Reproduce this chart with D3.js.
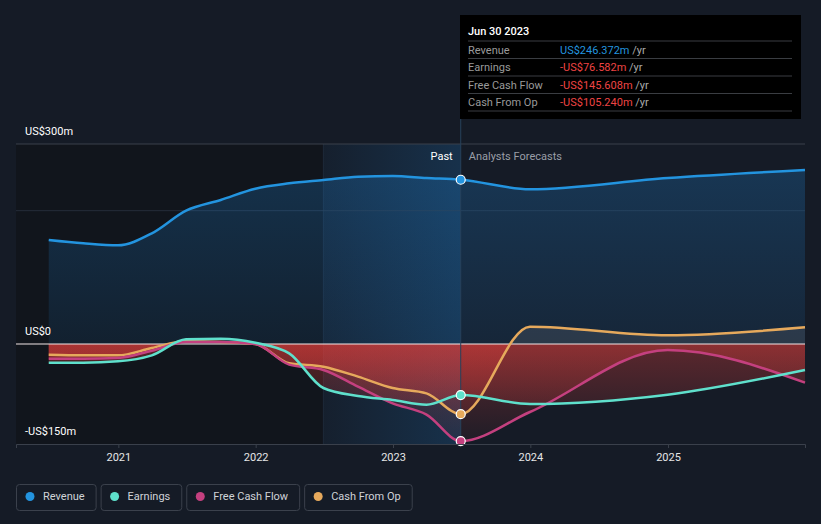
<!DOCTYPE html>
<html>
<head>
<meta charset="utf-8">
<script src="https://cdn.jsdelivr.net/npm/d3@7"></script>
<style>
  body { margin: 0; background: #151b26; font-family: Roboto, "Noto Sans", sans-serif; }
  svg { display: block; }
</style>
</head>
<body>
<div id="chart"></div>
<script>
// Dates of each data point (past quarters, then analyst forecasts)
const dates = ["2020-06-30", "2020-09-30", "2020-12-31", "2021-03-31", "2021-06-30", "2021-09-30",
  "2021-12-31", "2022-03-31", "2022-06-30", "2022-09-30", "2022-12-31", "2023-03-31", "2023-06-30",
  "2023-12-31", "2024-12-31", "2025-12-31"];

// Values in US$m
const revenue = [156, 151, 148, 166, 200, 216, 233, 241, 246, 251, 252, 249, 246.372, 232, 249, 261];
const earnings = [-28, -28, -26, -17, 7, 8, 2, -14, -66, -78, -84, -91, -76.582, -90, -76, -39];
const freeCashFlow = [-22, -22, -21, -10, 3, 3, 0, -31, -39, -64, -89, -106, -145.608, -102, -9, -58];
const cashFromOp = [-16, -17, -17, -6, 4, 3, 0, -29, -34, -49, -66, -74, -105.24, 26, 13, 25];

const yTicks = [300, 0, -150];
const yTickLabels = ["US$300m", "US$0", "-US$150m"];
const xTicks = ["2021-01-01", "2022-01-01", "2023-01-01", "2024-01-01", "2025-01-01"];

const seriesNames = ["Revenue", "Earnings", "Free Cash Flow", "Cash From Op"];
const seriesColors = ["#2394df", "#5fe0cc", "#c4407f", "#e6a95c"];
const tooltipValues = ["US$246.372m", "-US$76.582m", "-US$145.608m", "-US$105.240m"];

const w = 821, h = 524;
const parse = d3.timeParse("%Y-%m-%d");
const nowDate = parse("2023-06-30");
const highlightStart = parse("2022-06-30");

const svg = d3.select("#chart").append("svg")
  .attr("width", w).attr("height", h);

const x = d3.scaleTime()
  .domain([new Date(2020, 3, 4), new Date(2025, 11, 31)])
  .range([16, 805]);
const y = d3.scaleLinear().domain([-150, 300]).range([444, 144]);

const defs = svg.append("defs");

const revGrad = defs.append("linearGradient").attr("id", "revGrad")
  .attr("x1", 0).attr("y1", 0).attr("x2", 0).attr("y2", 1);
revGrad.append("stop").attr("offset", "0%").attr("stop-color", "#2196f3").attr("stop-opacity", 0.22);
revGrad.append("stop").attr("offset", "100%").attr("stop-color", "#2196f3").attr("stop-opacity", 0.09);

const redGrad = defs.append("linearGradient").attr("id", "redGrad")
  .attr("gradientUnits", "userSpaceOnUse")
  .attr("x1", 0).attr("y1", y(0)).attr("x2", 0).attr("y2", y(-150));
redGrad.append("stop").attr("offset", "0%").attr("stop-color", "#e8403c").attr("stop-opacity", 0.34);
redGrad.append("stop").attr("offset", "100%").attr("stop-color", "#e8403c").attr("stop-opacity", 0.04);

const hlGrad = defs.append("linearGradient").attr("id", "hlGrad")
  .attr("x1", 0).attr("y1", 0).attr("x2", 1).attr("y2", 0);
hlGrad.append("stop").attr("offset", "0%").attr("stop-color", "#1f8ae0").attr("stop-opacity", 0.04);
hlGrad.append("stop").attr("offset", "100%").attr("stop-color", "#1f8ae0").attr("stop-opacity", 0.2);

defs.append("clipPath").attr("id", "below")
  .append("rect").attr("x", 0).attr("y", y(0)).attr("width", w).attr("height", y(-150) - y(0));
defs.append("clipPath").attr("id", "above")
  .append("rect").attr("x", 0).attr("y", 0).attr("width", w).attr("height", y(0));

// Background panels
svg.append("rect")
  .attr("x", x.range()[0]).attr("y", y(300))
  .attr("width", x(highlightStart) - x.range()[0]).attr("height", y(-150) - y(300))
  .attr("fill", "#11151c");
svg.append("rect")
  .attr("x", x(highlightStart)).attr("y", y(300))
  .attr("width", x(nowDate) - x(highlightStart)).attr("height", y(-150) - y(300))
  .attr("fill", "url(#hlGrad)");
svg.append("line")
  .attr("x1", x(highlightStart)).attr("x2", x(highlightStart))
  .attr("y1", y(300)).attr("y2", y(-150))
  .attr("stroke", "#1e2a38").attr("stroke-width", 1);

// Gridlines
svg.append("line").attr("x1", 16).attr("x2", 805).attr("y1", y(300)).attr("y2", y(300))
  .attr("stroke", "#3a404b");
svg.append("line").attr("x1", 16).attr("x2", 805).attr("y1", y(200)).attr("y2", y(200))
  .attr("stroke", "#2a3340").attr("stroke-opacity", 0.8);

const data = dates.map((d, i) => ({
  date: parse(d),
  revenue: revenue[i],
  earnings: earnings[i],
  fcf: freeCashFlow[i],
  cfo: cashFromOp[i]
}));

const curve = d3.curveMonotoneX;

// Revenue area
svg.append("path")
  .datum(data)
  .attr("fill", "url(#revGrad)")
  .attr("d", d3.area().curve(curve).x(d => x(d.date)).y0(y(0)).y1(d => y(d.revenue)));

// Areas for the other series: red below zero, grey above
const keys = ["earnings", "fcf", "cfo"];
keys.forEach(k => {
  const a = d3.area().curve(curve).x(d => x(d.date)).y0(y(0)).y1(d => y(d[k]));
  svg.append("path").datum(data)
    .attr("clip-path", "url(#below)")
    .attr("fill", "url(#redGrad)")
    .attr("d", a);
  svg.append("path").datum(data)
    .attr("clip-path", "url(#above)")
    .attr("fill", "#b9b9b9").attr("fill-opacity", 0.13)
    .attr("d", a);
});

// Zero line
svg.append("line").attr("x1", 16).attr("x2", 805).attr("y1", y(0)).attr("y2", y(0))
  .attr("stroke", "#f2e6e6").attr("stroke-width", 1.2);

// Lines
const allKeys = ["revenue", "earnings", "fcf", "cfo"];
[3, 2, 1, 0].forEach(i => {
  const k = allKeys[i];
  svg.append("path").datum(data)
    .attr("fill", "none")
    .attr("stroke", seriesColors[i])
    .attr("stroke-width", 2.5)
    .attr("d", d3.line().curve(curve).x(d => x(d.date)).y(d => y(d[k])));
});

// Vertical marker at Jun 30 2023
svg.append("line")
  .attr("x1", x(nowDate)).attr("x2", x(nowDate))
  .attr("y1", 15).attr("y2", y(-150))
  .attr("stroke", "#27405a").attr("stroke-width", 1);

// Points at Jun 30 2023
const nowPoint = data.find(d => +d.date === +nowDate);
allKeys.forEach((k, i) => {
  svg.append("circle")
    .attr("cx", x(nowPoint.date)).attr("cy", y(nowPoint[k]))
    .attr("r", 4.5)
    .attr("fill", seriesColors[i])
    .attr("stroke", "#ffffff").attr("stroke-width", 1.2);
});

// X axis
const xAxis = d3.axisBottom(x)
  .tickValues(xTicks.map(parse))
  .tickFormat(d3.timeFormat("%Y"))
  .tickSize(4).tickPadding(5);
const gx = svg.append("g").attr("transform", "translate(0," + y(-150) + ")").call(xAxis);
gx.select(".domain").attr("stroke", "#3a404b");
gx.selectAll(".tick line").attr("stroke", "#3a404b");
gx.selectAll("text").attr("fill", "#e6e6e6").style("font-size", "11px").style("font-family", "Roboto");

// Y labels
svg.selectAll(".ylab").data(yTicks).enter().append("text")
  .attr("class", "ylab")
  .attr("x", 25)
  .attr("y", d => y(d) - 9)
  .attr("fill", "#ffffff")
  .style("font-size", "11px")
  .text((d, i) => yTickLabels[i]);

// Past / Analysts Forecasts
svg.append("text").attr("x", x(nowDate) - 8).attr("y", 160)
  .attr("text-anchor", "end").attr("fill", "#ffffff").style("font-size", "11px").text("Past");
svg.append("text").attr("x", x(nowDate) + 8).attr("y", 160)
  .attr("fill", "#9a9ea6").style("font-size", "11px").text("Analysts Forecasts");

// Tooltip box
const tip = svg.append("g").attr("transform", "translate(460,15)");
tip.append("rect").attr("width", 341).attr("height", 104).attr("fill", "#000000");
tip.append("text").attr("x", 8).attr("y", 20).attr("fill", "#ffffff")
  .style("font-size", "11px").style("font-weight", 500).text("Jun 30 2023");
seriesNames.forEach((name, i) => {
  const yy = 26 + i * 17.5;
  tip.append("line").attr("x1", 8).attr("x2", 332).attr("y1", yy).attr("y2", yy)
    .attr("stroke", "#3a3d42");
  const t = tip.append("text").attr("x", 8).attr("y", yy + 12.5).style("font-size", "11px");
  t.append("tspan").attr("fill", "#9a9a9a").text(name);
  const v = tip.append("text").attr("x", 100).attr("y", yy + 12.5).style("font-size", "11px");
  v.append("tspan").attr("fill", i === 0 ? "#2394df" : "#ee4444").text(tooltipValues[i]);
  v.append("tspan").attr("fill", "#aaaaaa").text(" /yr");
});
tip.append("line").attr("x1", 8).attr("x2", 332).attr("y1", 96).attr("y2", 96)
  .attr("stroke", "#3a3d42");

// Legend
const legend = svg.append("g").attr("transform", "translate(16,484)");
let lx = 0;
seriesNames.forEach((name, i) => {
  const g = legend.append("g").attr("transform", "translate(" + lx + ",0)");
  const txt = g.append("text").attr("x", 27).attr("y", 16)
    .attr("fill", "#d0d3d8").style("font-size", "11px").text(name);
  const tw = txt.node().getComputedTextLength();
  const bw = tw + 38;
  g.insert("rect", "text")
    .attr("x", 0.5).attr("y", 0.5).attr("width", bw).attr("height", 26).attr("rx", 3)
    .attr("fill", "none").attr("stroke", "#3b414c");
  g.append("circle").attr("cx", 14).attr("cy", 12.5).attr("r", 4.5).attr("fill", seriesColors[i]);
  lx += bw + 5;
});
</script>
</body>
</html>
